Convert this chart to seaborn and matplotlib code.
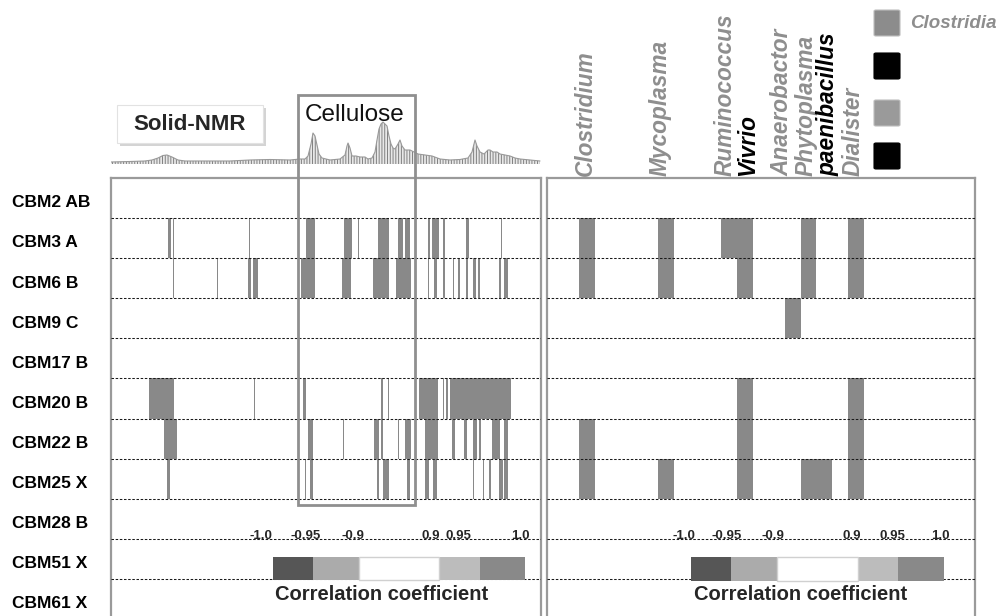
import numpy as np
import pandas as pd
import matplotlib
matplotlib.use("Agg")
import matplotlib.pyplot as plt
import matplotlib.transforms as mtransforms
from matplotlib.colors import ListedColormap, BoundaryNorm
from matplotlib.patches import Rectangle, FancyBboxPatch
import seaborn as sns

sns.set_theme(style="white")
plt.rcParams["font.family"] = ["Liberation Sans", "DejaVu Sans"]
plt.rcParams["hatch.linewidth"] = 0.7

# ------------------------------------------------------------------ data
cbm_modules = ["CBM2 AB", "CBM3 A", "CBM6 B", "CBM9 C", "CBM17 B", "CBM20 B",
               "CBM22 B", "CBM25 X", "CBM28 B", "CBM51 X", "CBM61 X"]

# solid-state 13C NMR trace (shift bin, intensity)
nmr_bin = [0, 19, 34, 41, 47, 52, 56, 61, 67, 74, 89, 119, 139, 159, 179, 189,
           194, 197, 200, 202, 204, 206, 208, 211, 219, 229, 234, 236, 237, 239,
           241, 245, 249, 254, 257, 261, 264, 266, 268, 270, 272, 274, 276, 278,
           280, 282, 284, 287, 289, 291, 294, 299, 303, 307, 314, 321, 329, 339,
           349, 357, 361, 364, 366, 369, 373, 377, 379, 382, 386, 389, 394, 399,
           404, 409, 419, 429]
nmr_intensity = [2, 2.5, 3, 4, 6, 8.5, 9, 7, 4, 3, 3, 3, 4, 4.5, 4, 5,
                 5, 8, 20, 31, 28, 19, 10, 6, 4, 5, 9, 18, 21, 16,
                 8, 8, 7, 7, 5, 6, 12, 24, 35, 40, 42, 40, 38, 28,
                 20, 16, 15, 20, 24, 18, 14, 14, 12, 10, 9, 8, 5, 4,
                 4.5, 6, 12, 24, 18, 12, 10, 14, 14, 12, 12, 10, 9, 8,
                 6, 5, 4, 3]
n_nmr_bins = 430
cellulose_bins = (187, 304)

# NMR bins (start, end) significantly correlated with each module
hits_cbm3a = [(57, 60), (62, 63), (138, 139), (195, 204), (233, 241), (247, 248),
              (267, 278), (287, 292), (294, 299), (317, 319), (321, 328),
              (332, 334), (355, 358), (390, 391)]
hits_cbm6b = [(62, 63), (106, 107), (137, 140), (142, 147), (190, 204),
              (231, 240), (262, 278), (285, 300), (317, 318), (323, 326),
              (332, 334), (342, 343), (347, 349), (355, 357), (362, 365),
              (367, 369), (388, 390), (393, 397)]
hits_cbm20b = [(38, 63), (143, 144), (192, 195), (270, 272), (277, 278),
               (308, 327), (332, 333), (335, 337), (339, 400)]
hits_cbm22b = [(53, 66), (197, 202), (232, 233), (263, 268), (270, 272),
               (287, 288), (294, 300), (314, 327), (341, 344), (353, 356),
               (362, 366), (368, 370), (381, 389), (393, 397)]
hits_cbm25x = [(56, 59), (194, 195), (199, 202), (266, 268), (272, 278),
               (296, 299), (314, 318), (322, 326), (362, 363), (372, 373),
               (378, 380), (388, 392), (393, 397)]
hit_r = 0.97

# bacterial genera (column in taxon axis) and correlated modules
n_taxa = 27
genera = ["Clostridium", "Mycoplasma", "Ruminococcus", "Vivrio",
          "Anaerobactor", "Phytoplasma", "paenibacillus", "Dialister"]
genus_column = [2, 7, 11, 12, 15, 16, 17, 19]
genus_in_clostridia = [True, True, True, False, True, True, False, True]
clostridium_hits = ["CBM3 A", "CBM6 B", "CBM22 B", "CBM25 X"]
mycoplasma_hits = ["CBM3 A", "CBM6 B", "CBM25 X"]
ruminococcus_hits = ["CBM3 A"]
vivrio_hits = ["CBM3 A", "CBM6 B", "CBM20 B", "CBM22 B", "CBM25 X"]
anaerobactor_hits = ["CBM9 C"]
phytoplasma_hits = ["CBM3 A", "CBM6 B", "CBM25 X"]
paenibacillus_hits = ["CBM25 X"]
dialister_hits = ["CBM3 A", "CBM6 B", "CBM20 B", "CBM22 B", "CBM25 X"]

# correlation-coefficient classes
legend_bounds = [-1.0, -0.95, -0.9, 0.9, 0.95, 1.0]
legend_ticklabels = ["-1.0", "-0.95", "-0.9", "0.9", "0.95", "1.0"]
legend_colors = ["#565656", "#ababab", "#ffffff", "#bcbcbc", "#898989"]
legend_levels = [-0.975, -0.925, 0.0, 0.925, 0.975]

# ------------------------------------------------------------------ layout
W, H = 1003, 616
fig = plt.figure(figsize=(W / 100, H / 100), dpi=100)


def box(x0, y0, x1, y1):
    return [x0 / W, 1 - y1 / H, (x1 - x0) / W, (y1 - y0) / H]


def fpt(x, y):
    return x / W, 1 - y / H


FRAME = "#9a9a9a"
GREY_TXT = "#8e8e8e"

cmap = ListedColormap(legend_colors)
norm = BoundaryNorm(legend_bounds, cmap.N)

ax_l = fig.add_axes(box(111, 178, 541, 619))
ax_r = fig.add_axes(box(547, 178, 975, 619))
ax_nmr = fig.add_axes(box(111, 114, 541, 164))
ax_cb_l = fig.add_axes(box(273, 557, 525, 580))
ax_cb_r = fig.add_axes(box(691, 557, 944, 581))

# ---- NMR x CBM correlation map
nmr_map = np.full((len(cbm_modules), n_nmr_bins), np.nan)
for module, hits in [("CBM3 A", hits_cbm3a), ("CBM6 B", hits_cbm6b),
                     ("CBM20 B", hits_cbm20b), ("CBM22 B", hits_cbm22b),
                     ("CBM25 X", hits_cbm25x)]:
    row = cbm_modules.index(module)
    for a, b in hits:
        nmr_map[row, a:b] = hit_r
sns.heatmap(pd.DataFrame(nmr_map, index=cbm_modules), ax=ax_l, cmap=cmap,
            norm=norm, cbar=False, xticklabels=False, yticklabels=True)
ax_l.set_yticks(np.arange(len(cbm_modules)) + 0.62)
ax_l.set_yticklabels(cbm_modules, rotation=0, ha="left", fontsize=12.5,
                     fontweight="bold", color="black")
ax_l.tick_params(axis="y", length=0, pad=71.3)

# ---- genus x CBM correlation map
taxa_map = np.full((len(cbm_modules), n_taxa), np.nan)
for col, hits in zip(genus_column,
                     [clostridium_hits, mycoplasma_hits, ruminococcus_hits,
                      vivrio_hits, anaerobactor_hits, phytoplasma_hits,
                      paenibacillus_hits, dialister_hits]):
    for module in hits:
        taxa_map[cbm_modules.index(module), col] = hit_r
sns.heatmap(pd.DataFrame(taxa_map, index=cbm_modules), ax=ax_r, cmap=cmap,
            norm=norm, cbar=False, xticklabels=False, yticklabels=False)

for ax, ncol in [(ax_l, n_nmr_bins), (ax_r, n_taxa)]:
    for sp in ax.spines.values():
        sp.set_visible(True)
        sp.set_color(FRAME)
        sp.set_linewidth(1.6)
    ax.hlines(np.arange(1, len(cbm_modules)), 0, ncol, colors="#1a1a1a",
              linewidth=0.75, linestyles=(0, (2.4, 1.6)), zorder=3)

# ---- NMR spectrum
ax_nmr.fill_between(nmr_bin, 0, nmr_intensity, facecolor="#e8e8e8",
                    edgecolor="#808080", hatch="||||||", linewidth=0)
sns.lineplot(x=nmr_bin, y=nmr_intensity, ax=ax_nmr, color="#999999",
             linewidth=0.8)
ax_nmr.set_xlim(0, n_nmr_bins)
ax_nmr.set_ylim(0, 50)
ax_nmr.axis("off")

# cellulose region across the NMR trace and the map
trans = mtransforms.blended_transform_factory(ax_l.transData, fig.transFigure)
fig.add_artist(Rectangle((cellulose_bins[0], 1 - 505 / H),
                         cellulose_bins[1] - cellulose_bins[0], 410 / H,
                         transform=trans, fill=False, edgecolor="#8f8f8f",
                         linewidth=2, zorder=10))
fig.text(*fpt(305, 115), "Cellulose", fontsize=17.5, ha="left", va="center",
         color="#111111")

# "Solid-NMR" tag
fig.add_artist(FancyBboxPatch(fpt(120, 146), 146 / W, 38 / H,
                              boxstyle="square,pad=0", transform=fig.transFigure,
                              facecolor="#d4d4d4", edgecolor="none", zorder=4))
fig.add_artist(FancyBboxPatch(fpt(117, 143), 146 / W, 38 / H,
                              boxstyle="square,pad=0", transform=fig.transFigure,
                              facecolor="white", edgecolor="#e2e2e2",
                              linewidth=0.8, zorder=5))
fig.text(*fpt(190, 124), "Solid-NMR", fontsize=16, fontweight="bold",
         ha="center", va="center", zorder=6)

# ---- genus labels
label_x = [585, 660, 725, 748, 782, 806, 828, 853]
for name, xc, in_cl in zip(genera, label_x, genus_in_clostridia):
    fig.text(*fpt(xc, 176), name, rotation=90, ha="center", va="bottom",
             fontsize=16.3, fontweight="bold", style="italic",
             color=GREY_TXT if in_cl else "black")

# class key in the top-right corner
for y0, col in [(10, "#8c8c8c"), (53, "#000000"), (100, "#9a9a9a"),
                (143, "#000000")]:
    fig.add_artist(FancyBboxPatch(fpt(874, y0 + 26), 26 / W, 26 / H,
                                  boxstyle="round,pad=0,rounding_size=0.002",
                                  transform=fig.transFigure, facecolor=col,
                                  edgecolor="#bdbdbd" if col != "#000000" else col,
                                  linewidth=0.8))
fig.text(*fpt(910, 23), "Clostridia", fontsize=13.5, fontweight="bold",
         style="italic", color=GREY_TXT, ha="left", va="center")

# ---- correlation-coefficient keys
legend_units = [8, 9, 16, 8, 9]
key_row = np.repeat(legend_levels, legend_units)[None, :]
tick_x = {"l": [261, 306, 353, 431, 458, 520],
          "r": [684, 727, 773, 852, 892, 940]}
for cb, side, title_x in [(ax_cb_l, "l", 382), (ax_cb_r, "r", 801)]:
    sns.heatmap(pd.DataFrame(key_row), ax=cb, cmap=cmap, norm=norm,
                cbar=False, xticklabels=False, yticklabels=False)
    start = sum(legend_units[:2])
    cb.add_patch(Rectangle((start, 0), legend_units[2], 1, fill=False,
                           edgecolor="#d0d0d0", linewidth=1.0, clip_on=False))
    for xl, lab in zip(tick_x[side], legend_ticklabels):
        fig.text(*fpt(xl, 536), lab, fontsize=9.5, fontweight="bold",
                 ha="center", va="center")
    fig.text(*fpt(title_x, 595), "Correlation coefficient", fontsize=14.5,
             fontweight="bold", ha="center", va="center")

fig.savefig("out.png", dpi=100)
